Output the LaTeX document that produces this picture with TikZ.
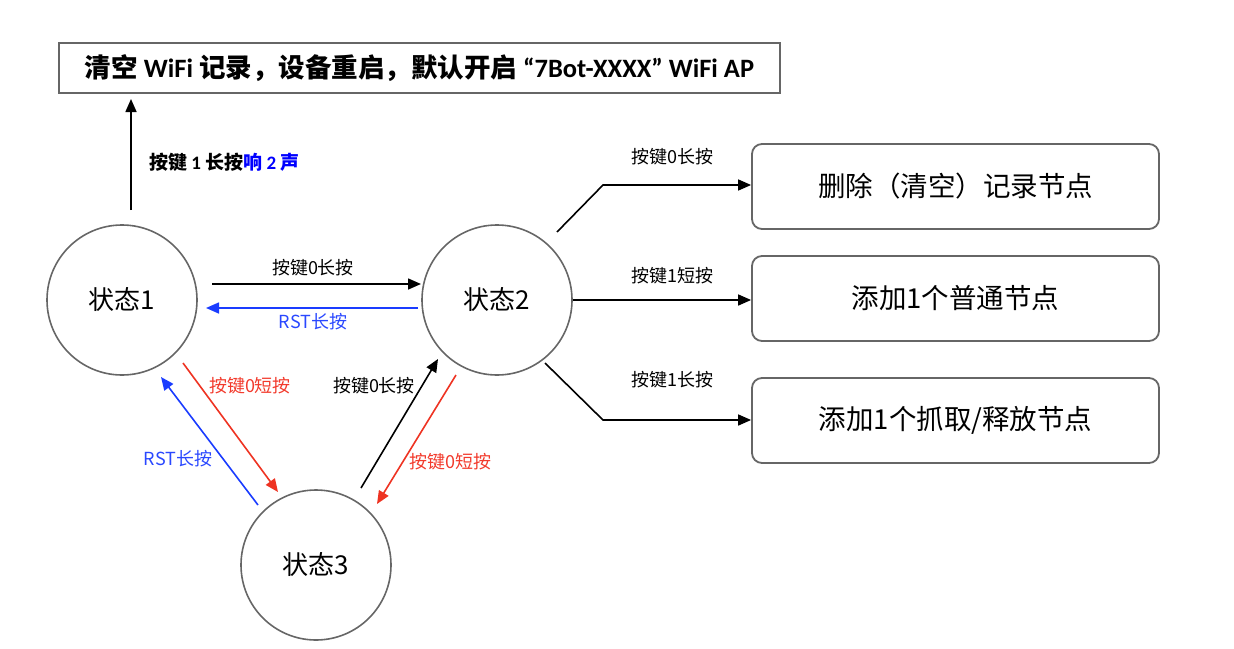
\documentclass[tikz,border=0pt]{standalone}
\usepackage{fontspec}
\setmainfont{Carlito}
\newfontfamily\cjk{Noto Sans CJK SC}
\usetikzlibrary{arrows.meta}
\definecolor{bord}{HTML}{666666}
\definecolor{myred}{HTML}{EE3322}
\definecolor{myblue}{HTML}{1A3CFF}
\definecolor{lblred}{HTML}{F23A2C}
\definecolor{lblblue}{HTML}{2A48FF}
\definecolor{pureblue}{HTML}{0000FF}
\tikzset{
  state/.style={circle,draw=bord,line width=1.6pt,minimum size=150pt,inner sep=0pt,
    font=\cjk\fontsize{26}{28}\selectfont},
  rbox/.style={rectangle,rounded corners=10pt,draw=bord,line width=1.8pt,
    minimum width=407pt,minimum height=85pt,inner sep=0pt,font=\cjk\fontsize{27.5}{30}\selectfont},
  topbox/.style={rectangle,draw=bord,line width=2.2pt,minimum width=721pt,minimum height=50pt,inner sep=0pt},
  arr/.style={line width=1.6pt,-{Triangle[length=13pt,width=11pt]}},
  lbl/.style={font=\cjk\fontsize{18}{20}\selectfont,inner sep=1pt},
}
\begin{document}
\begin{tikzpicture}[x=1pt,y=-1pt]
\useasboundingbox (0,0) rectangle (1234,648);

% top box
\node[topbox] (top) at (419.5,68)
  {\bfseries\fontsize{26.5}{28}\selectfont{\cjk 清空} WiFi {\cjk 记录，设备重启，默认开启} “7Bot-XXXX” WiFi AP};

% states
\node[state] (s1) at (122,300) {状态1};
\node[state] (s2) at (497,300) {状态2};
\node[state] (s3) at (316,565) {状态3};

% right boxes
\node[rbox] (b1) at (955.5,186.5) {删除（清空）记录节点};
\node[rbox] (b2) at (955.5,298.5) {添加1个普通节点};
\node[rbox] (b3) at (955.5,420.5) {添加1个抓取/释放节点};

% up arrow
\coordinate (upS) at (131,210);
\coordinate (upE) at (131,99);
\draw[arr] (upS) -- (upE);
\node[anchor=west,inner sep=0pt] (uplbl) at (149,162)
  {\bfseries\fontsize{19}{21}\selectfont{\cjk 按键}\ 1\ {\cjk 长按}\textcolor{pureblue}{{\cjk 响}\ 2\ {\cjk 声}}};

% s1 <-> s2
\coordinate (a12s) at (212,284);
\coordinate (a12e) at (421,284);
\draw[arr] (a12s) -- (a12e);
\node[lbl] (l12) at (313,268) {按键0长按};
\coordinate (a21s) at (418,308);
\coordinate (a21e) at (206,308);
\draw[arr,myblue] (a21s) -- (a21e);
\node[lbl,text=lblblue] (l21) at (313,322) {RST长按};

% s1 <-> s3
\coordinate (a13s) at (183,363);
\coordinate (a13e) at (278,492);
\draw[arr,myred] (a13s) -- (a13e);
\node[lbl,text=lblred] (l13) at (250,386) {按键0短按};
\coordinate (a31s) at (258,505);
\coordinate (a31e) at (161,377);
\draw[arr,myblue] (a31s) -- (a31e);
\node[lbl,text=lblblue] (l31) at (178,459) {RST长按};

% s3 <-> s2
\coordinate (a32s) at (361,488);
\coordinate (a32e) at (438,359);
\draw[arr] (a32s) -- (a32e);
\node[lbl] (l32) at (374,386) {按键0长按};
\coordinate (a23s) at (456,375);
\coordinate (a23e) at (377,504);
\draw[arr,myred] (a23s) -- (a23e);
\node[lbl,text=lblred] (l23) at (450,462) {按键0短按};

% s2 -> boxes
\coordinate (r1s) at (557,232);
\coordinate (r1m) at (603,185);
\draw[arr] (r1s) -- (r1m) -- (b1.west |- r1m);
\node[lbl] (lr1) at (672,157) {按键0长按};
\draw[arr] (s2.east) -- (b2.west |- s2.east);
\node[lbl] (lr2) at (672,276) {按键1短按};
\coordinate (r3s) at (545,363);
\coordinate (r3m) at (603,420);
\draw[arr] (r3s) -- (r3m) -- (b3.west |- r3m);
\node[lbl] (lr3) at (672,380) {按键1长按};
\end{tikzpicture}
\end{document}
